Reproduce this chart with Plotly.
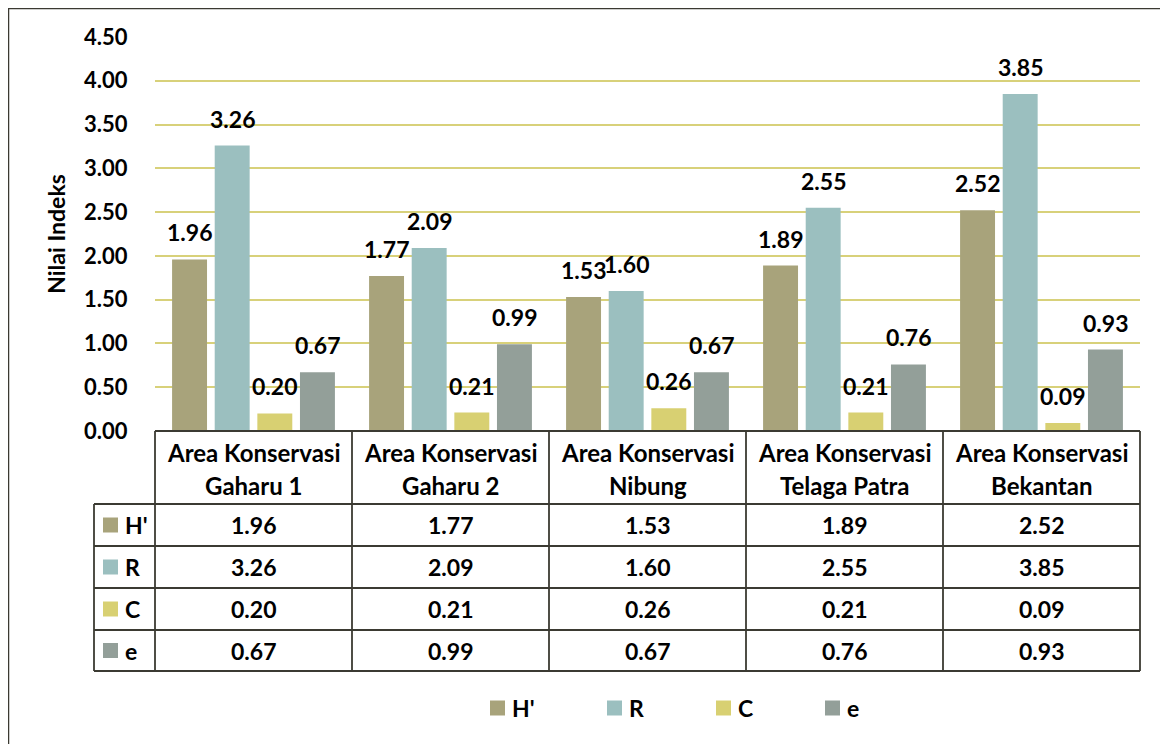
import plotly.graph_objects as go

categories = ["Gaharu 1", "Gaharu 2", "Nibung", "Telaga Patra", "Bekantan"]
cat_prefix = "Area Konservasi"
series_names = ["H'", "R", "C", "e"]
h_vals = [1.96, 1.77, 1.53, 1.89, 2.52]
r_vals = [3.26, 2.09, 1.60, 2.55, 3.85]
c_vals = [0.20, 0.21, 0.26, 0.21, 0.09]
e_vals = [0.67, 0.99, 0.67, 0.76, 0.93]
y_ticks = [0.0, 0.5, 1.0, 1.5, 2.0, 2.5, 3.0, 3.5, 4.0, 4.5]

series_vals = [h_vals, r_vals, c_vals, e_vals]
colors = ["#a8a37b", "#9bbfbf", "#d8d072", "#939f99"]

FONT = "Lato"
OFF = 8  # page offset of the plot div
W, H = 1168 - OFF, 744 - OFF
ML, MR, MT, MB = 155 - OFF, 28, 37 - OFF, 744 - 431
PW = W - ML - MR
PH = H - MT - MB

def px_x(px):
    return (px - OFF - ML) / PW

def px_y(py):
    return (H - MB - (py - OFF)) / PH

slot = 0.2164
bw = 0.1774
xs = list(range(len(categories)))

fig = go.Figure()
for i, (name, vals, col) in enumerate(zip(series_names, series_vals, colors)):
    fig.add_trace(go.Bar(
        x=xs, y=vals, name=name, showlegend=False,
        marker=dict(color=col, line=dict(width=0)),
        width=bw, offset=(i - 1.5) * slot - bw / 2,
    ))

lblfont = dict(family=FONT, size=23, color="black", weight="bold")
annotations = []
for i, vals in enumerate(series_vals):
    for j, v in enumerate(vals):
        annotations.append(dict(
            x=j + (i - 1.5) * slot, y=v, xref="x", yref="y",
            text=f"{v:.2f}", showarrow=False, yshift=27,
            font=lblfont,
        ))

shapes = []
line_col = "#3b3a32"
shapes.append(dict(type="rect", xref="paper", yref="paper",
                   x0=px_x(8), x1=px_x(1190), y0=px_y(770), y1=px_y(8),
                   line=dict(color=line_col, width=2.5), fillcolor="rgba(0,0,0,0)", layer="above"))

col_edges = [155 + k * (1140 - 155) / 5 for k in range(6)]
label_left = 94
row_edges = [431, 504, 546, 588, 630, 671]
tl = dict(color=line_col, width=1.8)
shapes.append(dict(type="line", xref="paper", yref="paper", x0=px_x(col_edges[0]), x1=px_x(col_edges[-1]),
                   y0=px_y(row_edges[0]), y1=px_y(row_edges[0]), line=tl))
for r in row_edges[1:]:
    shapes.append(dict(type="line", xref="paper", yref="paper", x0=px_x(label_left), x1=px_x(col_edges[-1]),
                       y0=px_y(r), y1=px_y(r), line=tl))
for c in col_edges:
    shapes.append(dict(type="line", xref="paper", yref="paper", x0=px_x(c), x1=px_x(c),
                       y0=px_y(row_edges[0]), y1=px_y(row_edges[-1]), line=tl))
shapes.append(dict(type="line", xref="paper", yref="paper", x0=px_x(label_left), x1=px_x(label_left),
                   y0=px_y(row_edges[1]), y1=px_y(row_edges[-1]), line=tl))

hfont = dict(family=FONT, size=24, color="black", weight="bold")
tfont = dict(family=FONT, size=23, color="black", weight="bold")
for j, cat in enumerate(categories):
    annotations.append(dict(x=j, y=px_y(452), xref="x", yref="paper", text=cat_prefix,
                            showarrow=False, font=hfont, yanchor="middle"))
    annotations.append(dict(x=j, y=px_y(485), xref="x", yref="paper", text=cat,
                            showarrow=False, font=hfont, yanchor="middle"))
for i, (name, vals, col) in enumerate(zip(series_names, series_vals, colors)):
    yc = (row_edges[i + 1] + row_edges[i + 2]) / 2
    shapes.append(dict(type="rect", xref="paper", yref="paper",
                       x0=px_x(103), x1=px_x(118), y0=px_y(yc + 7.5), y1=px_y(yc - 7.5),
                       fillcolor=col, line=dict(width=0)))
    annotations.append(dict(x=px_x(123), y=px_y(yc), xref="paper", yref="paper", text=name,
                            showarrow=False, font=tfont, xanchor="left", yanchor="middle"))
    for j, v in enumerate(vals):
        annotations.append(dict(x=j, y=px_y(yc), xref="x", yref="paper", text=f"{v:.2f}",
                                showarrow=False, font=tfont, yanchor="middle"))

# legend (bottom)
leg_x = [490, 607, 716, 825]
leg_y = 708
for name, col, lx in zip(series_names, colors, leg_x):
    shapes.append(dict(type="rect", xref="paper", yref="paper",
                       x0=px_x(lx), x1=px_x(lx + 15), y0=px_y(leg_y + 7.5), y1=px_y(leg_y - 7.5),
                       fillcolor=col, line=dict(width=0)))
    annotations.append(dict(x=px_x(lx + 20), y=px_y(leg_y), xref="paper", yref="paper", text=name,
                            showarrow=False, font=tfont, xanchor="left", yanchor="middle"))

fig.update_layout(
    width=W, height=H, autosize=False,
    margin=dict(l=ML, r=MR, t=MT, b=MB),
    paper_bgcolor="white", plot_bgcolor="white",
    barmode="overlay",
    showlegend=False,
    xaxis=dict(range=[-0.5, 4.5], showticklabels=False, showgrid=False, zeroline=False,
               showline=False, ticks=""),
    yaxis=dict(range=[0, 4.5], tickvals=y_ticks, tickformat=".2f",
               gridcolor="#d8d17a", gridwidth=1.6, zeroline=False, showline=False,
               ticks="outside", ticklen=22, tickcolor="rgba(0,0,0,0)",
               tickfont=dict(family=FONT, size=22, color="black", weight="bold"),
               title=dict(text="Nilai Indeks", standoff=12,
                          font=dict(family=FONT, size=23, color="black", weight="bold"))),
    annotations=annotations, shapes=shapes,
)

fig.write_html("out.html")
